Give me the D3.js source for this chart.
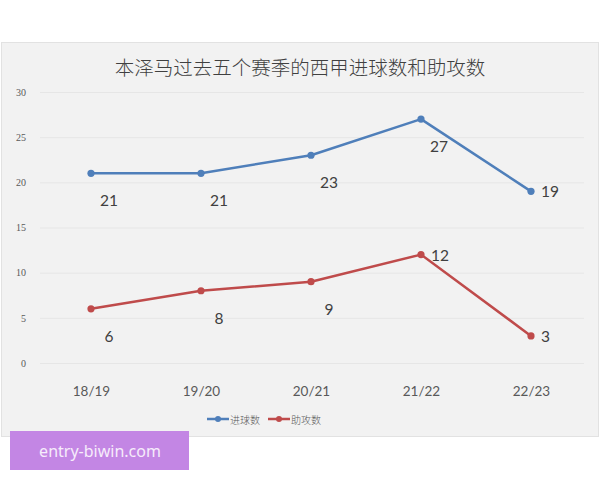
<!DOCTYPE html>
<html>
<head>
<meta charset="utf-8">
<script src="https://cdn.jsdelivr.net/npm/d3@7"></script>
<style>
html,body{margin:0;padding:0;background:#fff;}
svg{display:block;}
</style>
</head>
<body>
<svg id="chart" width="600" height="480"></svg>
<script>
const title = "本泽马过去五个赛季的西甲进球数和助攻数";
const seasons = ["18/19", "19/20", "20/21", "21/22", "22/23"];
const goals = [21, 21, 23, 27, 19];
const assists = [6, 8, 9, 12, 3];
const goalsLabelPos = ["below", "below", "below", "below", "right"];
const assistsLabelPos = ["below", "below", "below", "right", "right"];
const yTicks = [0, 5, 10, 15, 20, 25, 30];
const seriesNames = ["进球数", "助攻数"];
const watermark = "entry-biwin.com";

const series = [
  {name: seriesNames[0], values: goals, pos: goalsLabelPos, color: "#4f7fba"},
  {name: seriesNames[1], values: assists, pos: assistsLabelPos, color: "#bf4b4b"}
];

const svg = d3.select("#chart");

// panel
svg.append("rect").attr("x", 1.5).attr("y", 42.5).attr("width", 597).attr("height", 394)
  .attr("fill", "#f2f2f2").attr("stroke", "#e2e2e2").attr("stroke-width", 1);

svg.append("text").attr("x", 300).attr("y", 66).attr("text-anchor", "middle")
  .attr("dominant-baseline", "central")
  .attr("font-family", "'Noto Sans CJK SC', sans-serif").attr("font-size", 19.5)
  .attr("font-weight", 300)
  .attr("fill", "#404040").text(title);

const x = d3.scalePoint().domain(seasons).range([91, 531]);
const y = d3.scaleLinear().domain([0, 30]).range([363, 92]);

// gridlines
svg.append("g").selectAll("line").data(yTicks).join("line")
  .attr("x1", 40).attr("x2", 584)
  .attr("y1", d => y(d) + 0.5).attr("y2", d => y(d) + 0.5)
  .attr("stroke", "#e6e6e6").attr("stroke-width", 1);

// y axis labels
const yAxis = d3.axisLeft(y).tickValues(yTicks).tickSize(0).tickPadding(0);
const gy = svg.append("g").attr("transform", "translate(26,0)").call(yAxis);
gy.select(".domain").remove();
gy.selectAll("text").attr("font-family", "'Liberation Serif', 'DejaVu Serif', serif")
  .attr("font-size", 10).attr("fill", "#595959");

// x axis labels
const xAxis = d3.axisBottom(x).tickSize(0).tickPadding(0);
const gx = svg.append("g").attr("transform", "translate(0,386)").call(xAxis);
gx.select(".domain").remove();
gx.selectAll("text").attr("font-family", "Lato, 'Open Sans', sans-serif")
  .attr("font-size", 13.5).attr("fill", "#595959");

const line = d3.line().x((d, i) => x(seasons[i])).y(d => y(d));

series.forEach(s => {
  const g = svg.append("g");
  g.append("path").datum(s.values).attr("d", line)
    .attr("fill", "none").attr("stroke", s.color).attr("stroke-width", 2.5)
    .attr("stroke-linejoin", "round");
  g.selectAll("circle").data(s.values).join("circle")
    .attr("cx", (d, i) => x(seasons[i])).attr("cy", d => y(d)).attr("r", 3.6)
    .attr("fill", s.color);
  g.selectAll("text").data(s.values).join("text")
    .attr("x", (d, i) => s.pos[i] === "right" ? x(seasons[i]) + 10 : x(seasons[i]) + 18)
    .attr("y", (d, i) => s.pos[i] === "right" ? y(d) : y(d) + 27)
    .attr("text-anchor", (d, i) => s.pos[i] === "right" ? "start" : "middle")
    .attr("dominant-baseline", "central")
    .attr("font-family", "Lato, 'Open Sans', sans-serif").attr("font-size", 15.5)
    .attr("fill", "#404040").text(d => d);
});

// legend
const legend = svg.append("g").attr("transform", "translate(0,419)");
const legendX = [207, 268];
series.forEach((s, i) => {
  const lg = legend.append("g").attr("transform", `translate(${legendX[i]},0)`);
  lg.append("line").attr("x1", 0).attr("x2", 22).attr("y1", 0).attr("y2", 0)
    .attr("stroke", s.color).attr("stroke-width", 2.5);
  lg.append("circle").attr("cx", 11).attr("cy", 0).attr("r", 3).attr("fill", s.color);
  lg.append("text").attr("x", 23).attr("y", 0).attr("dominant-baseline", "central")
    .attr("font-family", "'Noto Sans CJK SC', sans-serif").attr("font-size", 10)
    .attr("font-weight", 300)
    .attr("fill", "#595959").text(s.name);
});

// watermark
svg.append("rect").attr("x", 10).attr("y", 431).attr("width", 179).attr("height", 39)
  .attr("fill", "#c386e4");
svg.append("text").attr("x", 100).attr("y", 451).attr("text-anchor", "middle")
  .attr("dominant-baseline", "central")
  .attr("font-family", "'Noto Sans', 'Open Sans', sans-serif").attr("font-size", 16)
  .attr("fill", "#f6ecfb").text(watermark);
</script>
</body>
</html>
